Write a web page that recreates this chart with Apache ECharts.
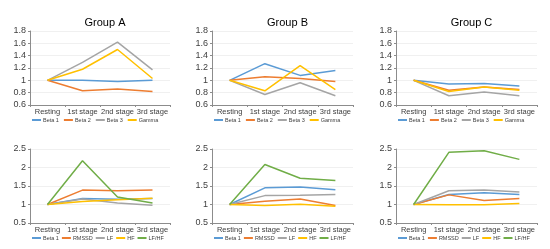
<!DOCTYPE html>
<html><head><meta charset="utf-8">
<script src="https://cdn.jsdelivr.net/npm/echarts@6/dist/echarts.min.js"></script>
<style>html,body{margin:0;padding:0;background:#fff}#c{width:550px;height:249px}</style>
</head><body><div id="c"></div>
<script>
const categories = ['Resting','1st stage','2nd stage','3rd stage'];
const groupTitles = ['Group A','Group B','Group C'];
const eegNames = ['Beta 1','Beta 2','Beta 3','Gamma'];
const hrvNames = ['Beta 1','RMSSD','LF','HF','LF/HF'];
const eegTicks = {min:0.6, max:1.8, interval:0.2};
const hrvTicks = {min:0.5, max:2.5, interval:0.5};

// EEG (top row)
const eegA_beta1 = [1, 1.00, 0.98, 1.00];
const eegA_beta2 = [1, 0.83, 0.86, 0.82];
const eegA_beta3 = [1, 1.29, 1.62, 1.17];
const eegA_gamma = [1, 1.18, 1.50, 1.03];
const eegB_beta1 = [1, 1.27, 1.08, 1.16];
const eegB_beta2 = [1, 1.06, 1.03, 0.98];
const eegB_beta3 = [1, 0.77, 0.96, 0.75];
const eegB_gamma = [1, 0.83, 1.24, 0.85];
const eegC_beta1 = [1, 0.94, 0.95, 0.91];
const eegC_beta2 = [1, 0.84, 0.89, 0.85];
const eegC_beta3 = [1, 0.75, 0.81, 0.75];
const eegC_gamma = [1, 0.82, 0.89, 0.84];
// HRV (bottom row)
const hrvA_beta1 = [1, 1.16, 1.14, 1.16];
const hrvA_rmssd = [1, 1.39, 1.37, 1.39];
const hrvA_lf    = [1, 1.15, 1.04, 0.98];
const hrvA_hf    = [1, 1.08, 1.13, 1.17];
const hrvA_lfhf  = [1, 2.18, 1.20, 1.04];
const hrvB_beta1 = [1, 1.45, 1.47, 1.40];
const hrvB_rmssd = [1, 1.09, 1.15, 0.97];
const hrvB_lf    = [1, 1.24, 1.25, 1.27];
const hrvB_hf    = [1, 0.97, 1.01, 0.95];
const hrvB_lfhf  = [1, 2.08, 1.71, 1.65];
const hrvC_beta1 = [1, 1.27, 1.32, 1.27];
const hrvC_rmssd = [1, 1.26, 1.11, 1.16];
const hrvC_lf    = [1, 1.37, 1.39, 1.34];
const hrvC_hf    = [1, 0.99, 0.99, 1.03];
const hrvC_lfhf  = [1, 2.41, 2.45, 2.22];

const eegData = [[eegA_beta1,eegA_beta2,eegA_beta3,eegA_gamma],[eegB_beta1,eegB_beta2,eegB_beta3,eegB_gamma],[eegC_beta1,eegC_beta2,eegC_beta3,eegC_gamma]];
const hrvData = [[hrvA_beta1,hrvA_rmssd,hrvA_lf,hrvA_hf,hrvA_lfhf],[hrvB_beta1,hrvB_rmssd,hrvB_lf,hrvB_hf,hrvB_lfhf],[hrvC_beta1,hrvC_rmssd,hrvC_lf,hrvC_hf,hrvC_lfhf]];

const colors = ['#5B9BD5','#ED7D31','#A5A5A5','#FFC000','#70AD47'];
const FONT = 'Liberation Sans';
const lefts = [30, 212, 396];
const widths = [140, 141, 141];
const tops = [31, 149];
const H = 74;

const grid=[], xAxis=[], yAxis=[], series=[], legend=[], title=[];
for (let r=0;r<2;r++){
  for (let c=0;c<3;c++){
    const gi = r*3+c;
    grid.push({left:lefts[c], top:tops[r], width:widths[c], height:H});
    xAxis.push({type:'category', gridIndex:gi, data:categories, boundaryGap:true,
      axisLine:{lineStyle:{color:'#8c8c8c',width:1}},
      axisTick:{show:true,length:2,lineStyle:{color:'#8c8c8c'}},
      axisLabel:{fontFamily:FONT,fontSize:7.5,color:'#404040',margin:3,interval:0}});
    const t = r===0?eegTicks:hrvTicks;
    yAxis.push({type:'value', gridIndex:gi, min:t.min, max:t.max, interval:t.interval,
      axisLine:{show:true,lineStyle:{color:'#8c8c8c',width:1}},
      axisTick:{show:true,length:2,lineStyle:{color:'#8c8c8c'}},
      splitLine:{show:true,lineStyle:{color:'#f0f0f0',width:1}},
      axisLabel:{fontFamily:FONT,fontSize:9,color:'#404040',margin:4,
        formatter:v=>String(parseFloat(v.toFixed(2)))}});
    const names = r===0?eegNames:hrvNames;
    const data = r===0?eegData[c]:hrvData[c];
    const legData=[];
    names.forEach((n,k)=>{
      const sname = n+'#'+gi;
      legData.push(sname);
      series.push({type:'line', name:sname, xAxisIndex:gi, yAxisIndex:gi, data:data[k],
        showSymbol:false, symbol:'none', lineStyle:{width:1.5,color:colors[k]}, itemStyle:{color:colors[k]},
        z: k===4?5:2});
    });
    legend.push({data:legData, left:lefts[c]+2, top:tops[r]+H+12, orient:'horizontal',
      itemWidth:9, itemHeight:2, itemGap:r===0?5:3, icon:'rect',
      formatter:s=>s.split('#')[0],
      textStyle:{fontFamily:FONT,fontSize:5.5,color:'#404040',padding:[0,0,0,-3]}, padding:0,
      selectedMode:false});
  }
}
groupTitles.forEach((g,c)=>title.push({text:g, left:lefts[c]+widths[c]/2, top:12, textAlign:'center',
  textStyle:{fontFamily:FONT,fontSize:11,fontWeight:'normal',color:'#000'}}));

const chart = echarts.init(document.getElementById('c'), null, {renderer:'canvas'});
chart.setOption({animation:false, title, grid, xAxis, yAxis, series, legend});
</script></body></html>
